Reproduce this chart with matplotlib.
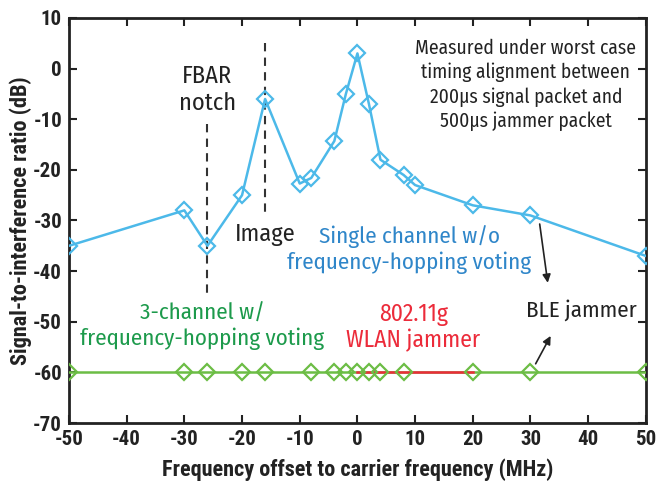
import matplotlib
matplotlib.use("Agg")
import matplotlib.pyplot as plt

# Measured signal-to-interference ratio vs. jammer frequency offset
single_freq = [-50, -30, -26, -20, -16, -10, -8, -4, -2, 0, 2, 4, 8, 10, 20, 30, 50]
single_sir = [-35, -28, -35, -25, -6, -22.7, -21.6, -14.3, -5, 3, -7, -18, -21, -23, -27, -29, -37]

voting_freq = [-50, -30, -26, -20, -16, -8, -4, -2, 0, 2, 4, 8, 20, 30, 50]
voting_sir = [-60] * len(voting_freq)

wlan_freq = [0, 20]
wlan_sir = [-60, -60]

x_ticks = [-50, -40, -30, -20, -10, 0, 10, 20, 30, 40, 50]
y_ticks = [-70, -60, -50, -40, -30, -20, -10, 0, 10]

label_font = ["Roboto Condensed", "DejaVu Sans"]
note_font = ["Fira Sans Condensed", "DejaVu Sans"]
plt.rcParams['font.family'] = label_font
plt.rcParams['axes.unicode_minus'] = False

fig = plt.figure(figsize=(6.59, 4.86), dpi=100)
ax = fig.add_axes([0.1047, 0.1296, 0.8753, 0.8334])

blue = "#4cb9e9"
green = "#6cbd45"
red = "#ec2b3a"
ink = "#222222"

ax.plot(single_freq, single_sir, color=blue, lw=1.8, marker="D", ms=8,
        mfc="none", mec=blue, mew=1.6, zorder=3)
ax.plot(voting_freq, voting_sir, color=green, lw=1.8, zorder=3)
ax.plot(wlan_freq, wlan_sir, color=red, lw=1.8, zorder=4)
ax.plot(voting_freq, voting_sir, ls="none", marker="D", ms=8,
        mfc="none", mec=green, mew=1.6, zorder=5)

# FBAR notch and image frequency markers
ax.plot([-26, -26], [-11, -44.5], ls=(0, (4, 3)), color="#333333", lw=1.5, zorder=2)
ax.plot([-16, -16], [5, -28.5], ls=(0, (4, 3)), color="#333333", lw=1.5, zorder=2)

ax.set_xlim(-50, 50)
ax.set_ylim(-70, 10)
ax.set_xticks(x_ticks)
ax.set_yticks(y_ticks)
ax.tick_params(direction="in", length=6, width=1.5, top=True, right=True,
               labelsize=15, colors=ink)
ax.tick_params(axis="x", pad=5)
ax.tick_params(axis="y", pad=5)
for lab in ax.get_xticklabels() + ax.get_yticklabels():
    lab.set_fontweight("bold")
for sp in ax.spines.values():
    sp.set_linewidth(2)
    sp.set_color(ink)

ax.set_xlabel("Frequency offset to carrier frequency (MHz)", fontsize=16,
              fontweight="bold", color=ink, labelpad=7)
ax.set_ylabel("Signal-to-interference ratio (dB)", fontsize=16,
              fontweight="bold", color=ink, labelpad=1)

tk = dict(ha="center", va="center", family=note_font)
ax.text(-26, -4.1, "FBAR\nnotch", fontsize=17.5, color=ink, linespacing=1.2, **tk)
ax.text(-16, -32.8, "Image", fontsize=17.5, color=ink, **tk)
ax.text(29.2, -3.2, "Measured under worst case\ntiming alignment between\n200\u03bcs signal packet and\n500\u03bcs jammer packet",
        fontsize=14, color=ink, linespacing=1.3, **tk)
ax.text(9.0, -35.75, "Single channel w/o\nfrequency-hopping voting", fontsize=16.5,
        color="#2f86c9", linespacing=1.18, **tk)
ax.text(-26.9, -50.9, "3-channel w/\nfrequency-hopping voting", fontsize=16.5,
        color="#1c9a4b", linespacing=1.18, **tk)
ax.text(9.7, -51.1, "802.11g\nWLAN jammer", fontsize=17, color=red,
        linespacing=1.18, **tk)
ax.text(38.9, -47.7, "BLE jammer", fontsize=16.5, color=ink, **tk)

arrow = dict(arrowstyle="-|>", color=ink, lw=1.2, mutation_scale=12,
             shrinkA=0, shrinkB=0)
ax.annotate("", xy=(33.0, -42.3), xytext=(31.6, -30.7), arrowprops=arrow)
ax.annotate("", xy=(33.5, -52.8), xytext=(30.9, -58.3), arrowprops=arrow)

fig.savefig("out.png", dpi=100)
